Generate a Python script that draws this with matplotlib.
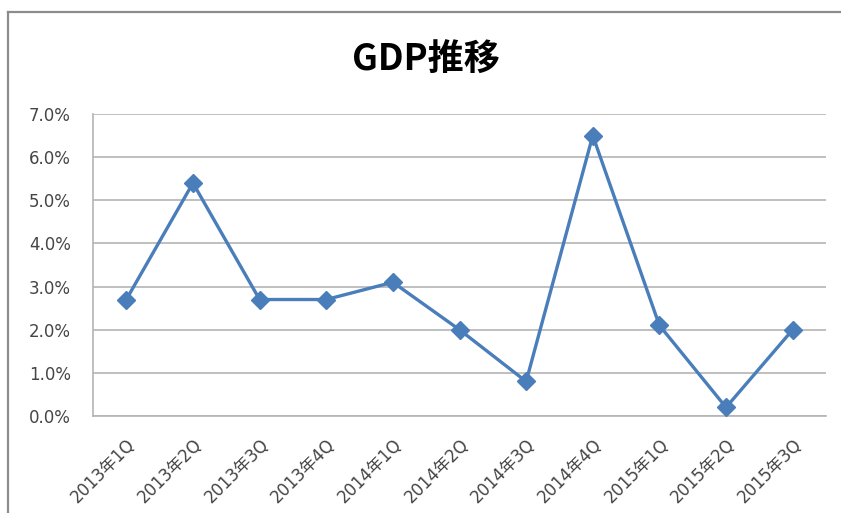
import matplotlib
matplotlib.use("Agg")
import matplotlib.pyplot as plt
from matplotlib.lines import Line2D
from matplotlib.ticker import FuncFormatter, MultipleLocator

plt.rcParams["font.family"] = ["DejaVu Sans", "Noto Sans CJK JP"]

quarters = [
    "2013年1Q", "2013年2Q", "2013年3Q", "2013年4Q",
    "2014年1Q", "2014年2Q", "2014年3Q", "2014年4Q",
    "2015年1Q", "2015年2Q", "2015年3Q",
]
gdp_growth = [2.7, 5.4, 2.7, 2.7, 3.1, 2.0, 0.8, 6.5, 2.1, 0.2, 2.0]

LINE_BLUE = "#4a7ebb"
GRID_GRAY = "#b4b4b4"
TEXT_GRAY = "#454545"

W, H = 841, 513
fig = plt.figure(figsize=(W / 100, H / 100), dpi=100)

# chart frame: top and left edges only, the rest runs off the canvas
fig.add_artist(Line2D([8 / W, 8 / W], [0, 1 - 12 / H], color="#8c8c8c", lw=1.6))
fig.add_artist(Line2D([8 / W, 1], [1 - 12 / H, 1 - 12 / H], color="#8c8c8c", lw=1.6))

left, right, top, bottom = 93, 826, 114, 416
ax = fig.add_axes([left / W, 1 - bottom / H, (right - left) / W, (bottom - top) / H])

x = range(len(quarters))
ax.plot(x, gdp_growth, color=LINE_BLUE, lw=2.4, marker="D", markersize=9,
        markerfacecolor=LINE_BLUE, markeredgecolor=LINE_BLUE, zorder=3)

ax.set_xlim(-0.5, len(quarters) - 0.5)
ax.set_ylim(0, 7)
ax.yaxis.set_major_locator(MultipleLocator(1))
ax.yaxis.set_major_formatter(FuncFormatter(lambda v, _: f"{v:.1f}%"))
ax.grid(axis="y", color=GRID_GRAY, lw=1.2)
ax.set_axisbelow(True)

for side in ("top", "right"):
    ax.spines[side].set_visible(False)
for side in ("left", "bottom"):
    ax.spines[side].set_color(GRID_GRAY)
    ax.spines[side].set_linewidth(1.2)

ax.tick_params(axis="y", length=0, pad=16, labelsize=12, labelcolor=TEXT_GRAY)
ax.tick_params(axis="x", length=0, pad=14, labelsize=12, labelcolor=TEXT_GRAY)
ax.set_xticks(list(x))
ax.set_xticklabels(quarters, rotation=45, ha="right", va="top", rotation_mode="anchor")

fig.text(426 / W, 1 - 60 / H, "GDP推移", ha="center", va="center",
         fontsize=26, fontweight="bold", color="black",
         family=["Noto Sans CJK JP", "DejaVu Sans"])

fig.savefig("out.png", dpi=100)
